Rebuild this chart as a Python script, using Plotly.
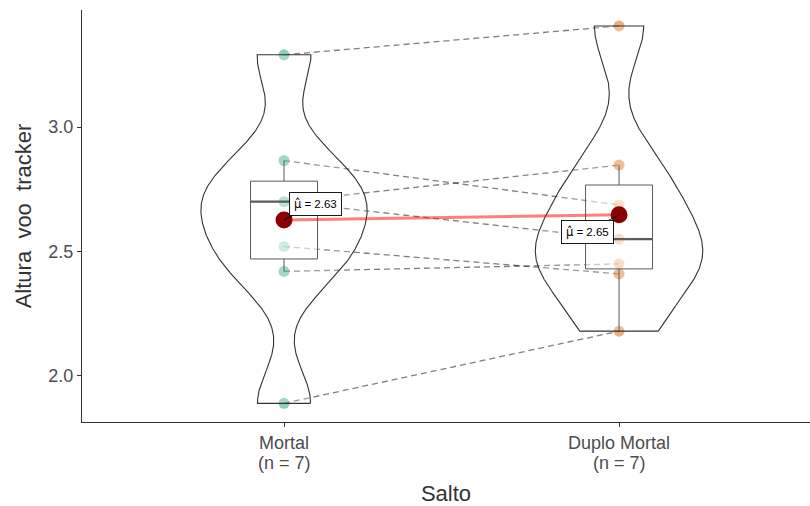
import numpy as np
import plotly.graph_objects as go

# ---- data ----
groups = ["Mortal", "Duplo Mortal"]
mortal = [3.29, 2.865, 2.70, 2.70, 2.52, 2.42, 1.89]
duplo_mortal = [3.406, 2.687, 2.847, 2.55, 2.41, 2.45, 2.18]
y_ticks = [2.0, 2.5, 3.0]
x_title = "Salto"
y_title = "Altura\u00a0 voo\u00a0 tracker"

point_colors = ["rgba(27,158,119,0.5)", "rgba(217,95,2,0.5)"]
FONT = "Liberation Sans, Arial, sans-serif"

data = [np.array(mortal, float), np.array(duplo_mortal, float)]
xpos = [1, 2]


def bw_nrd0(a):
    sd = np.std(a, ddof=1)
    iqr = np.percentile(a, 75) - np.percentile(a, 25)
    lo = min(sd, iqr / 1.34)
    return 0.9 * lo * len(a) ** -0.2


def kde(a, grid, bw):
    z = (grid[:, None] - a[None, :]) / bw
    return np.exp(-0.5 * z ** 2).sum(1) / (len(a) * bw * np.sqrt(2 * np.pi))


fig = go.Figure()

# paired dashed lines
lx, ly = [], []
for a, b in zip(mortal, duplo_mortal):
    lx += [xpos[0], xpos[1], None]
    ly += [a, b, None]
fig.add_trace(go.Scatter(x=lx, y=ly, mode="lines",
                         line=dict(color="rgba(0,0,0,0.5)", width=1.3, dash="6px,4px"),
                         hoverinfo="skip", showlegend=False))

# raw points
for p, a, c in zip(xpos, data, point_colors):
    fig.add_trace(go.Scatter(x=[p] * len(a), y=a, mode="markers",
                             marker=dict(size=11, color=c, line=dict(width=0)),
                             showlegend=False))

# boxplots
for p, a in zip(xpos, data):
    q1, med, q3 = np.percentile(a, [25, 50, 75])
    iqr = q3 - q1
    hi = a[a <= q3 + 1.5 * iqr].max()
    lo = a[a >= q1 - 1.5 * iqr].min()
    hw = 0.1
    fig.add_trace(go.Scatter(x=[p - hw, p + hw, p + hw, p - hw, p - hw],
                             y=[q1, q1, q3, q3, q1], mode="lines", fill="toself",
                             fillcolor="rgba(255,255,255,0.5)",
                             line=dict(color="#333333", width=1), hoverinfo="skip",
                             showlegend=False))
    fig.add_trace(go.Scatter(x=[p, p, None, p, p], y=[q3, hi, None, q1, lo], mode="lines",
                             line=dict(color="#333333", width=1), hoverinfo="skip",
                             showlegend=False))
    fig.add_trace(go.Scatter(x=[p - hw, p + hw], y=[med, med], mode="lines",
                             line=dict(color="#333333", width=2.2), hoverinfo="skip",
                             showlegend=False))

# violins (trimmed, area-scaled, width 0.5)
dens_list = []
for a in data:
    grid = np.linspace(a.min(), a.max(), 512)
    dens_list.append((grid, kde(a, grid, bw_nrd0(a))))
maxd = max(d.max() for _, d in dens_list)
for p, (grid, d) in zip(xpos, dens_list):
    w = 0.25 * d / maxd
    vx = np.concatenate([p + w, (p - w)[::-1], [p + w[0]]])
    vy = np.concatenate([grid, grid[::-1], [grid[0]]])
    fig.add_trace(go.Scatter(x=vx, y=vy, mode="lines", fill="toself",
                             fillcolor="rgba(255,255,255,0.2)",
                             line=dict(color="#333333", width=1.1), hoverinfo="skip",
                             showlegend=False))

# mean path and mean points
means = [a.mean() for a in data]
fig.add_trace(go.Scatter(x=xpos, y=means, mode="lines",
                         line=dict(color="rgba(255,0,0,0.5)", width=3),
                         hoverinfo="skip", showlegend=False))
fig.add_trace(go.Scatter(x=xpos, y=means, mode="markers",
                         marker=dict(size=17, color="#8B0000"), showlegend=False))

offsets = [(31, -16), (-32, 17)]
mu_hat = "<span style='font-family:DejaVu Sans'>\u03bc\u0302</span>"
for p, m, (ax, ay) in zip(xpos, means, offsets):
    fig.add_annotation(x=p, y=m, text=f"{mu_hat} = {m:.2f}", showarrow=True,
                       arrowhead=0, arrowwidth=0.9, arrowcolor="black", ax=ax, ay=ay,
                       font=dict(family=FONT, size=11.5, color="black"),
                       bgcolor="white", bordercolor="black", borderwidth=0.9, borderpad=4)

# second line of x tick labels: sample sizes
for p, a in zip(xpos, data):
    fig.add_annotation(x=p, xref="x", y=0, yref="paper", yanchor="top",
                       text=f"(n = {len(a)})", showarrow=False, yshift=-29,
                       font=dict(family=FONT, size=18, color="#4D4D4D"))

fig.update_layout(
    width=810, height=506,
    margin=dict(l=82, r=0, t=10, b=84),
    plot_bgcolor="white", paper_bgcolor="white",
    font=dict(family=FONT, color="#333333"),
    showlegend=False,
    xaxis=dict(range=[0.397, 2.57], tickvals=xpos, ticktext=groups,
               showgrid=False, zeroline=False, showline=True, linecolor="#333333",
               linewidth=1.1, ticks="outside", ticklen=4, tickcolor="#333333",
               tickfont=dict(size=18, color="#4D4D4D"),
               title=dict(text=x_title, font=dict(size=22, color="#333333"), standoff=34)),
    yaxis=dict(range=[1.815, 3.47], tickvals=y_ticks,
               ticktext=[f"{v:.1f}" for v in y_ticks],
               showgrid=False, zeroline=False, showline=True, linecolor="#333333",
               linewidth=1.1, ticks="outside", ticklen=4, tickcolor="#333333",
               tickfont=dict(size=18, color="#4D4D4D"),
               title=dict(text=y_title, font=dict(size=22, color="#333333"), standoff=10)),
)

fig.write_html("out.html")
